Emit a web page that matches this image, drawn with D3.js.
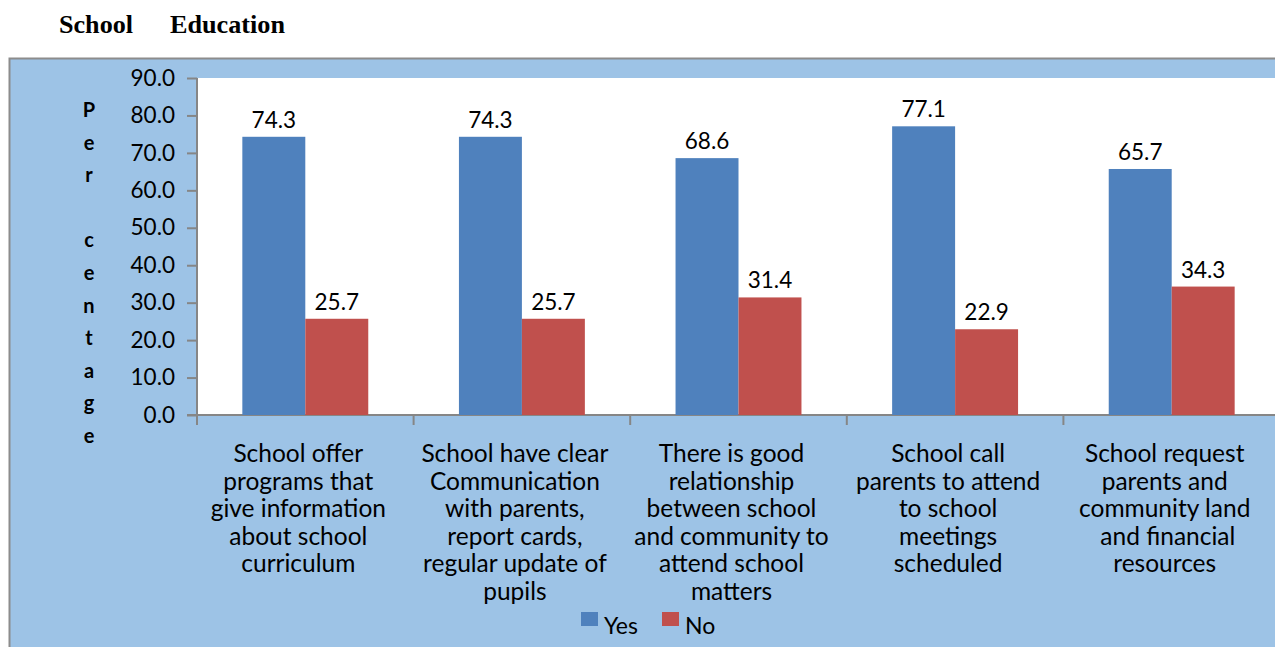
<!DOCTYPE html>
<html>
<head>
<meta charset="utf-8">
<script src="https://cdn.jsdelivr.net/npm/d3@7"></script>
<style>
  body { margin: 0; background: #fff; }
  svg { display: block; }
  text { font-family: Lato, "Open Sans", sans-serif; }
</style>
</head>
<body>
<div id="chart"></div>
<script>
const categories = [
    ['School offer', 'programs that', 'give information', 'about school', 'curriculum'],
    ['School have clear', 'Communication', 'with parents,', 'report cards,', 'regular update of', 'pupils'],
    ['There is good', 'relationship', 'between school', 'and community to', 'attend school', 'matters'],
    ['School call', 'parents to attend', 'to school', 'meetings', 'scheduled'],
    ['School request', 'parents and', 'community land', ' and financial', 'resources']
];
const yesValues = [74.3, 74.3, 68.6, 77.1, 65.7];
const noValues = [25.7, 25.7, 31.4, 22.9, 34.3];
const seriesNames = ['Yes', 'No'];
const yTicks = [0, 10, 20, 30, 40, 50, 60, 70, 80, 90];
const axisTitle = ['P', 'e', 'r', '', 'c', 'e', 'n', 't', 'a', 'g', 'e'];
const headingWords = ['School', 'Education'];

const width = 1275;
const height = 647;
const colors = ['#4F81BD', '#C0504D'];
const plot = { left: 197, right: 1280, top: 78, bottom: 415 };

const svg = d3.select('#chart')
  .append('svg')
    .attr('width', width)
    .attr('height', height);

// heading line
svg.append('g').selectAll('.heading')
  .data(headingWords)
  .enter()
  .append('text')
    .attr('x', (d, i) => [59, 170][i])
    .attr('y', 33)
    .style('font-family', '"Liberation Serif", "DejaVu Serif", serif')
    .style('font-weight', 'bold')
    .style('font-size', '26px')
    .attr('textLength', (d, i) => [74, 115][i])
    .attr('lengthAdjust', 'spacingAndGlyphs')
    .text((d) => d);

// chart area
svg.append('rect')
    .attr('x', 9.5)
    .attr('y', 58.5)
    .attr('width', width)
    .attr('height', height)
    .attr('fill', '#9DC3E6')
    .attr('stroke', '#8C8C8C')
    .attr('stroke-width', 2);

svg.append('rect')
    .attr('x', plot.left)
    .attr('y', plot.top)
    .attr('width', plot.right - plot.left)
    .attr('height', plot.bottom - plot.top)
    .attr('fill', '#FFFFFF');

const x = d3.scaleBand()
    .domain(d3.range(categories.length))
    .range([plot.left, plot.right])
    .paddingInner(0)
    .paddingOuter(0);

const y = d3.scaleLinear()
    .domain([0, 90])
    .range([plot.bottom, plot.top]);

const inner = d3.scaleBand()
    .domain(seriesNames)
    .range([0, x.bandwidth()])
    .paddingOuter(0.72)
    .paddingInner(0);

// y axis
const yAxis = svg.append('g')
    .attr('transform', `translate(${plot.left},0)`)
    .call(d3.axisLeft(y).tickValues(yTicks).tickFormat(d3.format('.1f')).tickSize(10).tickPadding(12));
yAxis.selectAll('line').attr('stroke', '#868686').attr('stroke-width', 2);
yAxis.select('.domain').attr('stroke', '#868686').attr('stroke-width', 2).attr('d', `M0,${plot.top}V${plot.bottom}`);
yAxis.selectAll('text').style('font-size', '22.5px').style('font-family', 'Lato, sans-serif').attr('fill', '#000');

// x axis
const xAxis = svg.append('g')
    .attr('transform', `translate(0,${plot.bottom})`);
xAxis.append('line')
    .attr('x1', plot.left - 10).attr('x2', plot.right)
    .attr('stroke', '#868686').attr('stroke-width', 2);
xAxis.selectAll('.tick')
  .data(d3.range(categories.length + 1))
  .enter()
  .append('line')
    .attr('x1', (d) => plot.left + d * x.bandwidth())
    .attr('x2', (d) => plot.left + d * x.bandwidth())
    .attr('y1', 0).attr('y2', 10)
    .attr('stroke', '#868686').attr('stroke-width', 2);

// bars
const groups = svg.append('g').selectAll('.group')
  .data(categories.map((c, i) => [yesValues[i], noValues[i]]))
  .enter()
  .append('g')
    .attr('transform', (d, i) => `translate(${x(i)},0)`);

groups.selectAll('rect')
  .data((d) => d.map((v, j) => ({ v: v, s: seriesNames[j], j: j })))
  .enter()
  .append('rect')
    .attr('x', (d) => inner(d.s))
    .attr('y', (d) => y(d.v))
    .attr('width', inner.bandwidth())
    .attr('height', (d) => plot.bottom - y(d.v))
    .attr('fill', (d) => colors[d.j]);

groups.selectAll('.value')
  .data((d) => d.map((v, j) => ({ v: v, s: seriesNames[j] })))
  .enter()
  .append('text')
    .attr('x', (d) => inner(d.s) + inner.bandwidth() / 2)
    .attr('y', (d) => y(d.v) - 9)
    .attr('text-anchor', 'middle')
    .style('font-size', '22.5px')
    .text((d) => d3.format('.1f')(d.v));

// category labels (Excel centres them with a trailing space, so a little left)
svg.append('g').selectAll('.cat')
  .data(categories)
  .enter()
  .append('text')
    .attr('x', (d, i) => x(i) + x.bandwidth() / 2 - 7)
    .attr('y', 462)
    .attr('text-anchor', 'middle')
    .attr('xml:space', 'preserve')
    .style('font-size', '24.5px')
    .each(function(d) {
        d3.select(this).selectAll('tspan')
          .data(d)
          .enter()
          .append('tspan')
            .attr('x', d3.select(this).attr('x'))
            .attr('dy', (t, k) => k === 0 ? 0 : 27.5)
            .text((t) => t);
    });

// vertical axis title
svg.append('g').selectAll('.ytitle')
  .data(axisTitle)
  .enter()
  .append('text')
    .attr('x', 89)
    .attr('y', (d, i) => 117 + i * 32.6)
    .attr('text-anchor', 'middle')
    .style('font-size', '20px')
    .style('font-weight', 'bold')
    .text((d) => d);

// legend
const legend = svg.append('g')
    .attr('transform', 'translate(581,612)');
const items = legend.selectAll('.item')
  .data(seriesNames)
  .enter()
  .append('g')
    .attr('transform', (d, i) => `translate(${i * 81},0)`);
items.append('rect')
    .attr('width', 17).attr('height', 14)
    .attr('fill', (d, i) => colors[i]);
items.append('text')
    .attr('x', 23).attr('y', 22)
    .style('font-size', '23px')
    .text((d) => d);
</script>
</body>
</html>
